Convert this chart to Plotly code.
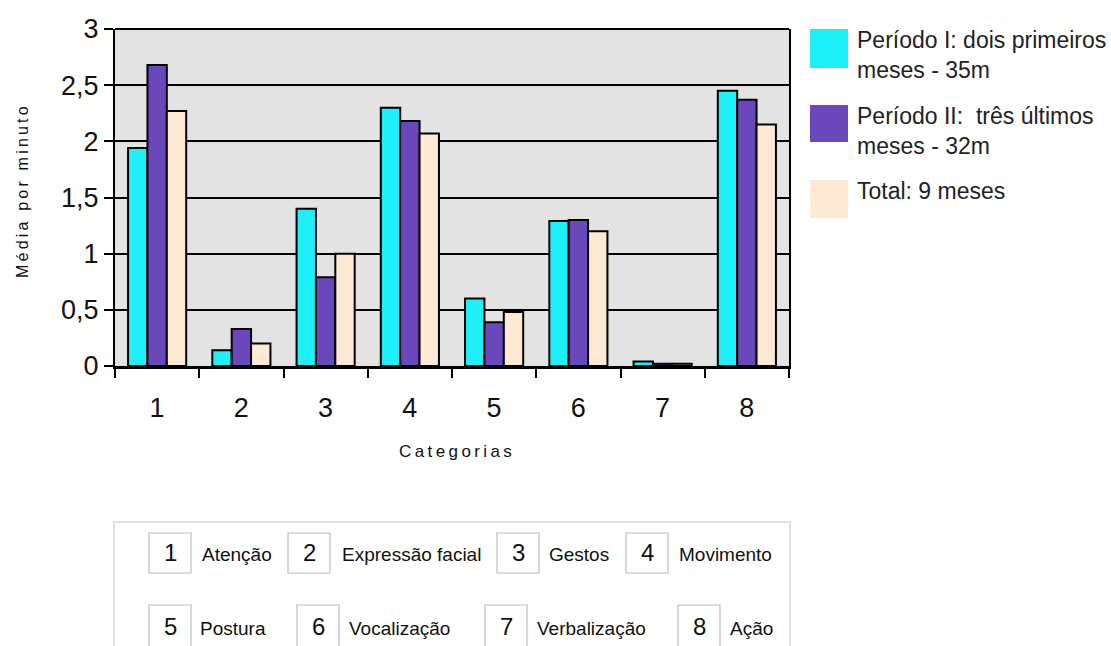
import plotly.graph_objects as go

categories = ["1", "2", "3", "4", "5", "6", "7", "8"]
periodo1 = [1.94, 0.14, 1.40, 2.30, 0.60, 1.29, 0.04, 2.45]
periodo2 = [2.68, 0.33, 0.79, 2.18, 0.39, 1.30, 0.02, 2.37]
total = [2.27, 0.20, 1.00, 2.07, 0.48, 1.20, 0.02, 2.15]
series_names = ["Período I: dois primeiros<br>meses - 35m",
                "Período II:  três últimos<br>meses - 32m",
                "Total: 9 meses"]
category_names = ["Atenção", "Expressão facial", "Gestos", "Movimento",
                  "Postura", "Vocalização", "Verbalização", "Ação"]
y_ticks = [0, 0.5, 1, 1.5, 2, 2.5, 3]
y_ticklabels = ["0", "0,5", "1", "1,5", "2", "2,5", "3"]
x_title = "Categorias"
y_title = "Média por minuto"

colors = ["#1ef0fa", "#6a48bc", "#fde9d4"]
FONT = "Liberation Sans Narrow, Liberation Sans, Arial, sans-serif"
FONT2 = "Liberation Sans, Arial, sans-serif"

W, H = 1111, 646
L, R, T, B = 115, 789, 29, 366


def px(x):
    return (x - L) / (R - L)


def py(y):
    return (B - y) / (B - T)


def spaced(s):
    return "\u2009".join(s)


fig = go.Figure()
for vals, c, n in zip([periodo1, periodo2, total], colors, series_names):
    fig.add_trace(go.Bar(x=categories, y=vals, name=n, marker_color=c,
                         marker_line_color="black", marker_line_width=2,
                         showlegend=False))

shapes = []
annotations = []

# custom legend
leg_y = [(29, 68), (105, 142), (180, 218)]
for (y0, y1), c, n in zip(leg_y, colors, series_names):
    shapes.append(dict(type="rect", xref="paper", yref="paper",
                       x0=px(810), x1=px(848), y0=py(y1), y1=py(y0),
                       fillcolor=c, line_width=0))
    annotations.append(dict(xref="paper", yref="paper", x=px(855), y=py(y0 - 4),
                            xanchor="left", yanchor="top", align="left",
                            text=n, showarrow=False,
                            font=dict(family=FONT2, size=23, color="#222")))

# bottom category key box
shapes.append(dict(type="rect", xref="paper", yref="paper",
                   x0=px(114), x1=px(790), y0=py(660), y1=py(522),
                   line=dict(color="#d8d8d8", width=1.5), fillcolor="rgba(0,0,0,0)"))
box_x = [149, 288, 497, 626, 149, 297, 485, 678]
label_x = [200, 340, 547, 677, 198, 347, 535, 728]
rows = [(533, 573)] * 4 + [(605, 660)] * 4
for i, (cat, name) in enumerate(zip(categories, category_names)):
    bx = box_x[i]
    y0, y1 = rows[i]
    shapes.append(dict(type="rect", xref="paper", yref="paper",
                       x0=px(bx), x1=px(bx + 42), y0=py(y1), y1=py(y0),
                       line=dict(color="#bdbdbd", width=1.2), fillcolor="white"))
    cy = 552 if i < 4 else 626
    annotations.append(dict(xref="paper", yref="paper", x=px(bx + 21), y=py(cy),
                            xanchor="center", yanchor="middle", text=cat,
                            showarrow=False,
                            font=dict(family=FONT, size=24, color="#111")))
    annotations.append(dict(xref="paper", yref="paper", x=px(label_x[i]), y=py(cy + 2),
                            xanchor="left", yanchor="middle", text=name,
                            showarrow=False,
                            font=dict(family=FONT, size=19, color="#111")))

# axis titles
annotations.append(dict(xref="paper", yref="paper", x=px(455), y=py(451),
                        xanchor="center", yanchor="middle",
                        text=spaced(x_title), showarrow=False,
                        font=dict(family=FONT2, size=17, color="#111")))
annotations.append(dict(xref="paper", yref="paper", x=px(22), y=py(192),
                        xanchor="center", yanchor="middle", textangle=-90,
                        text=spaced(y_title), showarrow=False,
                        font=dict(family=FONT2, size=16, color="#111")))

fig.update_layout(
    width=W, height=H,
    margin=dict(l=L, r=W - R, t=T, b=H - B),
    paper_bgcolor="white",
    plot_bgcolor="#e3e3e3",
    barmode="group", bargap=0.31, bargroupgap=0.0,
    shapes=shapes, annotations=annotations,
    xaxis=dict(type="category", tickson="boundaries", ticks="outside",
               ticklen=9, tickwidth=2, tickcolor="black",
               showline=True, linecolor="black", linewidth=3, mirror=False,
               showgrid=False, ticklabelstandoff=16,
               tickfont=dict(family=FONT, size=27, color="#111")),
    yaxis=dict(range=[0, 3], tickvals=y_ticks, ticktext=y_ticklabels,
               ticks="outside", ticklen=9, tickwidth=2, tickcolor="black",
               showline=True, linecolor="black", linewidth=2, mirror=True,
               showgrid=True, gridcolor="black", gridwidth=1.5,
               zeroline=False,
               tickfont=dict(family=FONT, size=27, color="#111")),
)
fig.add_shape(type="line", xref="paper", yref="paper", x0=0, x1=1, y0=1, y1=1,
              line=dict(color="black", width=2))

fig.write_html("out.html", config={"displayModeBar": False},
               post_script="document.body.style.margin='0px';"
                           "document.body.style.overflow='hidden';")
